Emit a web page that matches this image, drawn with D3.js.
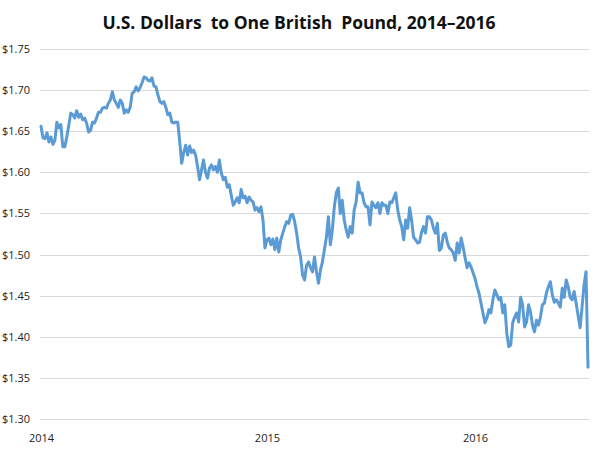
<!DOCTYPE html>
<html>
<head>
<meta charset="utf-8">
<title>USD per GBP</title>
<style>
	body { margin: 0; background: #fff; }
</style>
</head>
<body>
<script src="https://d3js.org/d3.v7.min.js"></script>
<script>
	// weekly-ish samples, Jan 2014 - Jun 2016
	var rates = [
		1.656, 1.642, 1.641, 1.648, 1.637, 1.643, 1.634, 1.639, 1.661, 1.654,
		1.658, 1.631, 1.631, 1.643, 1.657, 1.672, 1.670, 1.666, 1.675, 1.667,
		1.671, 1.664, 1.666, 1.660, 1.649, 1.651, 1.661, 1.660, 1.666, 1.673,
		1.673, 1.678, 1.679, 1.678, 1.684, 1.688, 1.698, 1.688, 1.684, 1.679,
		1.688, 1.684, 1.672, 1.676, 1.673, 1.679, 1.696, 1.698, 1.704, 1.699,
		1.703, 1.709, 1.716, 1.715, 1.712, 1.711, 1.715, 1.705, 1.704, 1.694,
		1.686, 1.684, 1.686, 1.679, 1.670, 1.672, 1.661, 1.660, 1.661, 1.661,
		1.637, 1.611, 1.624, 1.633, 1.621, 1.632, 1.624, 1.627, 1.621, 1.607,
		1.591, 1.603, 1.615, 1.600, 1.593, 1.605, 1.609, 1.603, 1.607, 1.600,
		1.615, 1.599, 1.591, 1.594, 1.582, 1.585, 1.572, 1.560, 1.564, 1.569,
		1.563, 1.579, 1.569, 1.571, 1.563, 1.570, 1.566, 1.564, 1.554, 1.557,
		1.552, 1.558, 1.542, 1.508, 1.518, 1.520, 1.512, 1.519, 1.506, 1.520,
		1.503, 1.518, 1.526, 1.534, 1.540, 1.538, 1.548, 1.549, 1.540, 1.526,
		1.508, 1.497, 1.475, 1.469, 1.487, 1.491, 1.484, 1.479, 1.497, 1.479,
		1.465, 1.481, 1.491, 1.506, 1.521, 1.546, 1.512, 1.530, 1.558, 1.575,
		1.581, 1.550, 1.566, 1.542, 1.530, 1.521, 1.534, 1.526, 1.554, 1.564,
		1.588, 1.575, 1.575, 1.563, 1.558, 1.558, 1.536, 1.564, 1.560, 1.557,
		1.563, 1.550, 1.563, 1.560, 1.560, 1.550, 1.564, 1.563, 1.569, 1.575,
		1.554, 1.542, 1.534, 1.518, 1.542, 1.532, 1.557, 1.542, 1.521, 1.518,
		1.514, 1.515, 1.527, 1.534, 1.526, 1.546, 1.546, 1.542, 1.532, 1.526,
		1.538, 1.505, 1.508, 1.524, 1.526, 1.515, 1.508, 1.506, 1.502, 1.493,
		1.514, 1.502, 1.520, 1.509, 1.496, 1.484, 1.490, 1.485, 1.478, 1.471,
		1.461, 1.453, 1.441, 1.429, 1.417, 1.423, 1.433, 1.429, 1.445, 1.457,
		1.451, 1.445, 1.448, 1.429, 1.439, 1.405, 1.388, 1.390, 1.417, 1.424,
		1.429, 1.418, 1.448, 1.439, 1.412, 1.418, 1.439, 1.430, 1.414, 1.406,
		1.420, 1.414, 1.424, 1.439, 1.441, 1.453, 1.461, 1.467, 1.451, 1.442,
		1.445, 1.441, 1.436, 1.459, 1.448, 1.469, 1.461, 1.448, 1.445, 1.455,
		1.441, 1.426, 1.411, 1.436, 1.463, 1.479, 1.363
	];
	var yearLabels = ["2014", "2015", "2016"];
	var yearStart = [0, 114, 219];   // sample index where each label sits
	var yTicks = [1.30, 1.35, 1.40, 1.45, 1.50, 1.55, 1.60, 1.65, 1.70, 1.75];

	var w = 600,
		h = 450,
		plotLeft = 41,
		plotRight = 589,
		plotTop = 49,
		plotBottom = 419;

	var svg = d3.select("body").append("svg")
			.attr("width", w)
			.attr("height", h);

	var x = d3.scaleLinear()
			.domain([0, rates.length - 1])
			.range([plotLeft, plotRight - 1]);
	var y = d3.scaleLinear()
			.domain([1.30, 1.75])
			.range([plotBottom, plotTop]);

	svg.append("text")
		.attr("x", 299)
		.attr("y", 29)
		.attr("text-anchor", "middle")
		.attr("font-family", "'Open Sans', sans-serif")
		.attr("font-weight", "bold")
		.attr("font-size", "17.5px")
		.attr("fill", "#111")
		.style("white-space", "pre")
		.text("U.S. Dollars  to One British  Pound, 2014\u20132016");

	// grid lines + y labels
	var yAxis = svg.append("g")
			.attr("transform", "translate(" + (plotLeft - 1) + ",0)")
			.call(d3.axisLeft(y)
				.tickValues(yTicks)
				.tickSize(-(plotRight - plotLeft + 1))
				.tickPadding(10)
				.tickFormat(function(d) { return "$" + d.toFixed(2); }));
	yAxis.select(".domain").remove();
	yAxis.selectAll(".tick line")
		.attr("stroke", "#d9d9d9")
		.attr("shape-rendering", "crispEdges");
	yAxis.selectAll(".tick text")
		.attr("font-family", "'Open Sans', sans-serif")
		.attr("font-size", "11px")
		.attr("fill", "#222");

	var xAxis = svg.append("g")
			.attr("transform", "translate(0," + plotBottom + ")")
			.call(d3.axisBottom(x)
				.tickValues(yearStart)
				.tickSize(0)
				.tickPadding(15)
				.tickFormat(function(d, i) { return yearLabels[i]; }));
	xAxis.select(".domain").remove();
	xAxis.selectAll(".tick text")
		.attr("font-family", "'Open Sans', sans-serif")
		.attr("font-size", "11px")
		.attr("fill", "#222");

	var line = d3.line()
			.x(function(d, i) { return x(i); })
			.y(function(d) { return y(d); });

	svg.append("path")
		.datum(rates)
		.attr("d", line)
		.attr("fill", "none")
		.attr("stroke", "#5b9bd5")
		.attr("stroke-width", 3)
		.attr("stroke-linejoin", "round")
		.attr("stroke-linecap", "round");
</script>
</body>
</html>
